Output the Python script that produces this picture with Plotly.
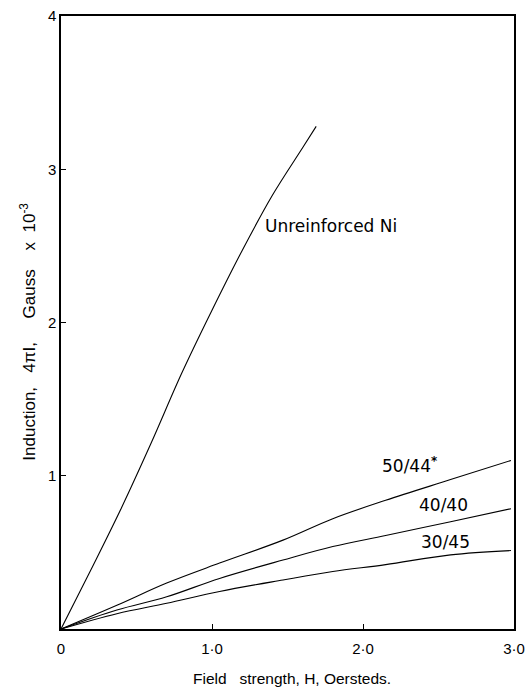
import plotly.graph_objects as go

# Field strength H (Oersteds) and induction 4πI (Gauss x 10^-3)
h_ni = [0.0, 0.2, 0.4, 0.6, 0.8, 1.0, 1.2, 1.4, 1.6, 1.69]
b_ni = [0.0, 0.39, 0.79, 1.22, 1.67, 2.08, 2.47, 2.83, 3.14, 3.28]

h_comp = [0.0, 0.37, 0.70, 1.05, 1.47, 1.80, 2.15, 2.58, 2.98]
b_50_44 = [0.0, 0.155, 0.30, 0.43, 0.58, 0.72, 0.84, 0.975, 1.10]
b_40_40 = [0.0, 0.124, 0.21, 0.33, 0.45, 0.538, 0.61, 0.70, 0.785]
b_30_45 = [0.0, 0.10, 0.168, 0.245, 0.32, 0.375, 0.42, 0.484, 0.512]

x_tickvals = [0, 1, 2, 3]
x_ticktext = ["0", "1·0", "2·0", "3·0"]
y_tickvals = [1, 2, 3, 4]
y_ticktext = ["1", "2", "3", "4"]

series = [
    (h_ni, b_ni),
    (h_comp, b_50_44),
    (h_comp, b_40_40),
    (h_comp, b_30_45),
]

fig = go.Figure()
for xs, ys in series:
    fig.add_trace(go.Scatter(
        x=xs, y=ys, mode="lines",
        line=dict(color="black", width=1.1, shape="spline", smoothing=1.0),
        showlegend=False, hoverinfo="skip",
    ))

label_font = dict(family="DejaVu Sans", size=17, color="black")
labels = [
    ("Unreinforced Ni", 1.34, 2.63),
    ("50/44<sup><b>*</b></sup>", 2.11, 1.07),
    ("40/40", 2.355, 0.81),
    ("30/45", 2.37, 0.57),
]
for text, lx, ly in labels:
    fig.add_annotation(
        x=lx, y=ly, xref="x", yref="y", text=text, showarrow=False,
        xanchor="left", yanchor="middle", font=label_font,
    )

NB = "\u00a0"
x_title = f"Field{NB*3}strength,{NB}H,{NB}Oersteds."
y_title = f"Induction,{NB*3}4πI,{NB*5}Gauss{NB*4}x{NB*2}10<sup>-3</sup>"
title_font = dict(family="Liberation Sans", color="black")

# Axis titles placed as paper-anchored annotations
fig.add_annotation(
    x=0.51, y=-0.081, xref="paper", yref="paper", text=x_title,
    showarrow=False, xanchor="center", yanchor="middle",
    font=dict(size=15.5, **title_font),
)
fig.add_annotation(
    x=-0.073, y=0.485, xref="paper", yref="paper", text=y_title,
    showarrow=False, xanchor="center", yanchor="middle", textangle=-90,
    font=dict(size=17, **title_font),
)

axis_common = dict(
    showline=True, linecolor="black", linewidth=1.5, mirror=True,
    showgrid=False, zeroline=False, ticks="inside", ticklen=5,
    tickcolor="black", tickwidth=1, automargin=False,
    tickfont=dict(family="Liberation Sans", size=15, color="black"),
)

fig.update_layout(
    width=526, height=690,
    margin=dict(l=61, r=12, t=16, b=61),
    paper_bgcolor="white", plot_bgcolor="white",
    xaxis=dict(
        range=[0, 3.0], tickvals=x_tickvals, ticktext=x_ticktext,
        ticklabelstandoff=5,
        **axis_common,
    ),
    yaxis=dict(
        range=[0, 4], tickvals=y_tickvals, ticktext=y_ticktext,
        **axis_common,
    ),
)

fig.write_html("out.html")
